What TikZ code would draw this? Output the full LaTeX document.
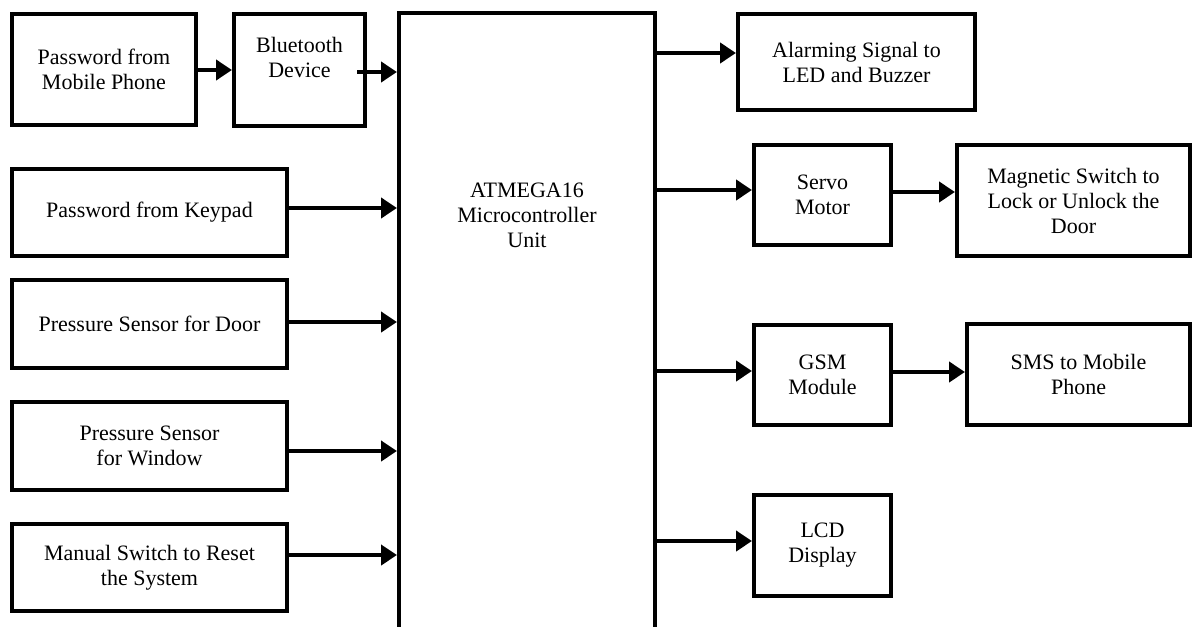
\documentclass[tikz,border=0pt]{standalone}
\usepackage{fontspec}
\setmainfont{Liberation Serif}
\usetikzlibrary{
  arrows.meta,
  positioning
}
\tikzset{
  >={Triangle[length=8pt,width=10pt]},
  blk/.style 2 args={
    draw,
    line width=2pt,
    minimum width=#1*0.5pt,
    minimum height=#2*0.5pt,
    inner sep=0pt,
    align=center,
    font=\fontsize{11}{12.5}\selectfont
  },
  link/.style={->, line width=2.3pt}
}

\begin{document}
\begin{tikzpicture}[x=0.5pt,y=-0.5pt]
\useasboundingbox (0,0) rectangle (1192,626);
\clip (0,0) rectangle (1192,626);
% inputs
\node[blk={184}{111}] (mob) at (104,69.5) {Password from\\Mobile Phone};
\node[blk={131}{112}] (bt) at (299.5,70) {Bluetooth\\Device\\\mbox{}};
\node[blk={275}{87}] (kp) at (149.5,212.5) {Password from Keypad};
\node[blk={275}{88}] (dr) at (149.5,324) {Pressure Sensor for Door};
\node[blk={275}{88}] (wn) at (149.5,446) {Pressure Sensor\\for Window};
\node[blk={275}{87}] (ms) at (149.5,567.5) {Manual Switch to Reset\\the System};
% controller
\node[blk={256}{700}] (mcu) at (527,363) {};
\node[align=center, font=\fontsize{11}{12.5}\selectfont] (mcut) at (527,215)
  {ATMEGA16\\Microcontroller\\Unit};
% outputs
\node[blk={237}{96}] (al) at (856.5,62) {Alarming Signal to\\LED and Buzzer};
\node[blk={137}{100}] (sv) at (822.5,195) {Servo\\Motor};
\node[blk={233}{111}] (mg) at (1073.5,200.5) {Magnetic Switch to\\Lock or Unlock the\\Door};
\node[blk={137}{100}] (gs) at (822.5,375) {GSM\\Module};
\node[blk={223}{101}] (sm) at (1078.5,374.5) {SMS to Mobile\\Phone};
\node[blk={137}{101}] (lc) at (822.5,545.5) {LCD\\Display};
% connectors
\draw[link] ([xshift=-5pt]bt.east |- 0,72) -- (mcu.west |- 0,72);
\foreach \a/\b/\y in {%
  mob/bt/70,
  kp/mcu/208,
  dr/mcu/322,
  wn/mcu/451,
  ms/mcu/555,
  mcu/al/53,
  mcu/sv/190,
  sv/mg/192,
  mcu/gs/371,
  gs/sm/372,
  mcu/lc/541%
} {
  \draw[link] (\a.east |- 0,\y) -- (\b.west |- 0,\y);
}
\end{tikzpicture}
\end{document}
